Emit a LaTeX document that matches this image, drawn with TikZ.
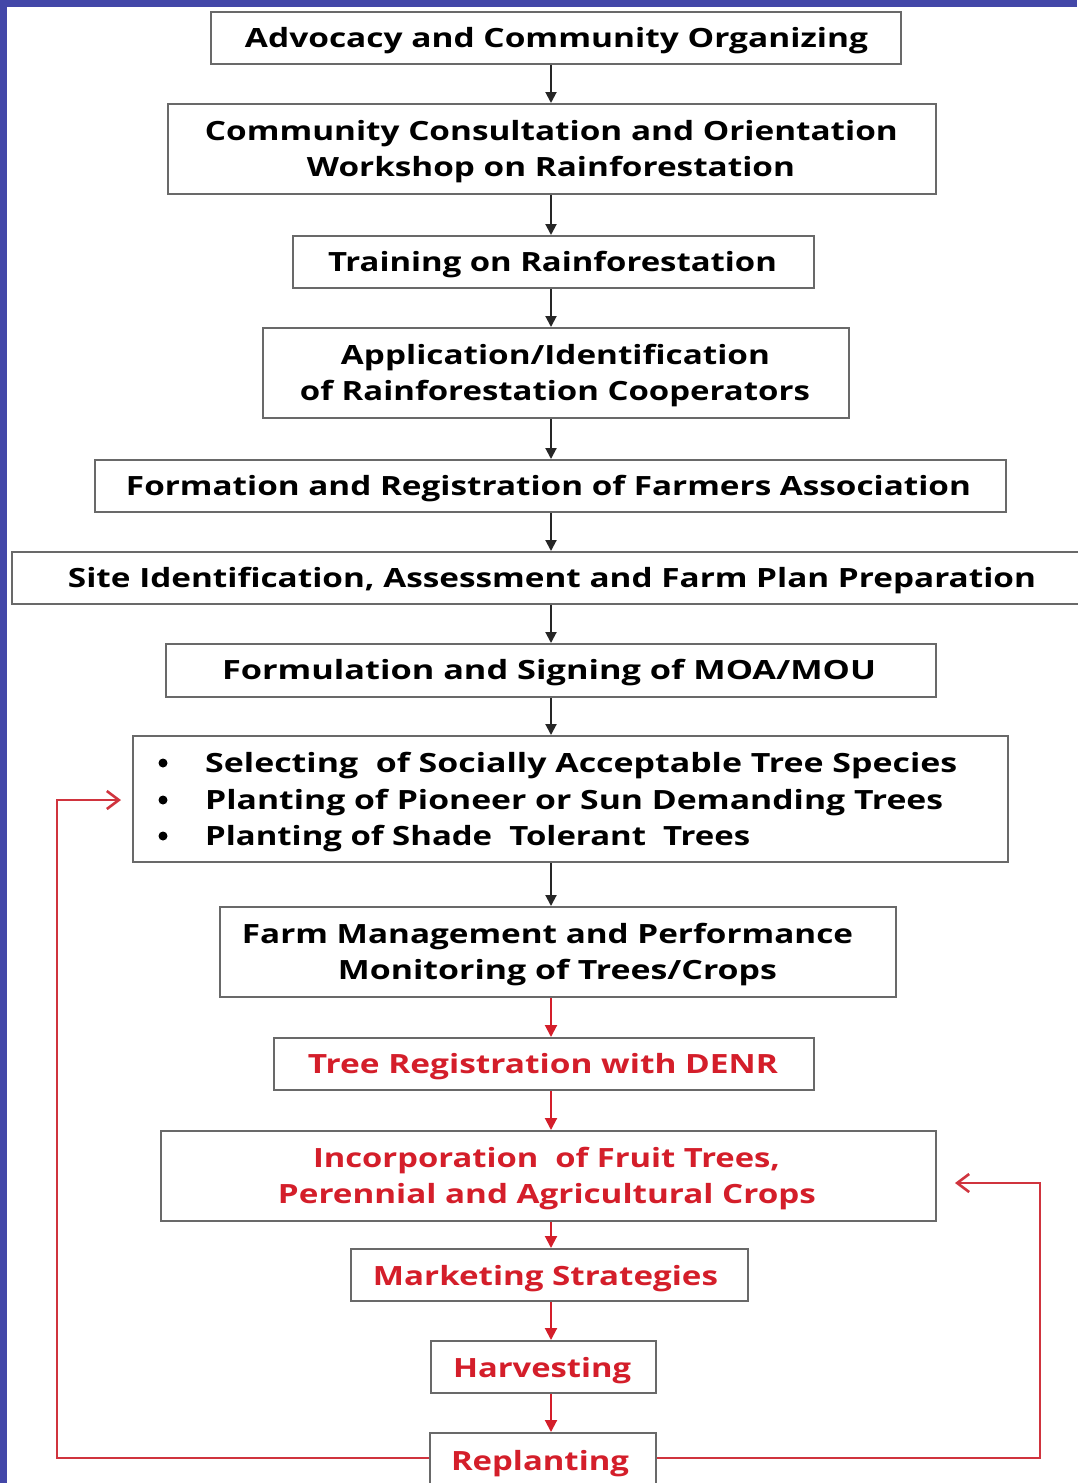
\documentclass[tikz,border=0pt]{standalone}
\usepackage{fontspec}
\setmainfont{Open Sans}
\usetikzlibrary{arrows.meta}
\definecolor{frame}{RGB}{67,71,168}
\definecolor{boxgray}{RGB}{105,105,105}
\definecolor{txtred}{RGB}{212,30,42}
\definecolor{linered}{RGB}{208,52,62}
\newcommand{\fitw}[2]{\resizebox{#1pt}{\height}{#2}}
\tikzset{
  box/.style={draw=boxgray, line width=2pt, rectangle, inner sep=0pt},
  txt/.style={inner sep=0pt, anchor=base, font=\fontsize{26.5}{32}\selectfont\bfseries, text=black},
  rtxt/.style={txt, text=txtred},
  ltxt/.style={txt, anchor=base west},
  bul/.style={circle, fill=black, inner sep=0pt, minimum size=9pt},
  karr/.style={draw=black!85, line width=2pt, -{Triangle[width=11pt,length=11pt]}},
  rarr/.style={draw=linered, line width=2pt, -{Triangle[width=12pt,length=12pt]}, color=txtred},
  rloop/.style={draw=linered, line width=2.6pt, -{Straight Barb[width=18pt,length=12pt,line width=2.6pt]}}
}
\begin{document}
\begin{tikzpicture}[x=1pt,y=-1pt]
\useasboundingbox (0,0) rectangle (1077,1483);
\fill[white] (0,0) rectangle (1077,1483);
% frame bands
\fill[frame] (0,0) rectangle (1077,6.5);
\fill[frame] (0,0) rectangle (7.3,1483);

\coordinate (axis) at (551,0);

% boxes
\node[box, minimum width=690pt, minimum height=52pt] (b1) at (556,38) {};
\node[box, minimum width=768pt, minimum height=90pt] (b2) at (552,149) {};
\node[box, minimum width=521pt, minimum height=52pt] (b3) at (553.5,262) {};
\node[box, minimum width=586pt, minimum height=90pt] (b4) at (556,373) {};
\node[box, minimum width=911pt, minimum height=52pt] (b5) at (550.5,486) {};
\node[box, minimum width=1078pt, minimum height=52pt] (b6) at (551,578) {};
\node[box, minimum width=770pt, minimum height=53pt] (b7) at (551,670.5) {};
\node[box, minimum width=875pt, minimum height=126pt] (b8) at (570.5,799) {};
\node[box, minimum width=676pt, minimum height=90pt] (b9) at (558,952) {};
\node[box, minimum width=540pt, minimum height=52pt] (b10) at (544,1064) {};
\node[box, minimum width=775pt, minimum height=90pt] (b11) at (548.5,1176) {};
\node[box, minimum width=397pt, minimum height=52pt] (b12) at (549.5,1275) {};
\node[box, minimum width=225pt, minimum height=52pt] (b13) at (543.5,1367) {};
\node[box, minimum width=226pt, minimum height=62pt] (b14) at (543,1464) {};

% texts
\node[txt] (t1) at (556.5,47.5) {\fitw{623}{Advocacy and Community Organizing}};
\node[txt] (t2a) at (551.5,140.5) {\fitw{693}{Community Consultation and Orientation}};
\node[txt] (t2b) at (551,176.5) {\fitw{488}{Workshop on Rainforestation}};
\node[txt] (t3) at (552.5,271.5) {\fitw{449}{Training on Rainforestation}};
\node[txt] (t4a) at (555.5,364.5) {\fitw{429}{Application/Identification}};
\node[txt] (t4b) at (555,400.5) {\fitw{510}{of Rainforestation Cooperators}};
\node[txt] (t5) at (548.5,495.5) {\fitw{845}{Formation and Registration of Farmers Association}};
\node[txt] (t6) at (552,587.5) {\fitw{968}{Site Identification, Assessment and Farm Plan Preparation}};
\node[txt] (t7) at (549,679.5) {\fitw{654}{Formulation and Signing of MOA/MOU}};
\node[bul] (u1) at (163,763) {};
\node[bul] (u2) at (163,800) {};
\node[bul] (u3) at (163,836) {};
\node[ltxt] (t8a) at (205,772.5) {\fitw{752}{Selecting\ \ of Socially Acceptable Tree Species}};
\node[ltxt] (t8b) at (205,809.5) {\fitw{738}{Planting of Pioneer or Sun Demanding Trees}};
\node[ltxt] (t8c) at (205,845.5) {\fitw{545}{Planting of Shade\ \ Tolerant\ \ Trees}};
\node[txt] (t9a) at (547.5,943.5) {\fitw{611}{Farm Management and Performance}};
\node[txt] (t9b) at (557.5,979.5) {\fitw{439}{Monitoring of Trees/Crops}};
\node[rtxt] (t10) at (543,1073.5) {\fitw{470}{Tree Registration with DENR}};
\node[rtxt] (t11a) at (546.5,1167.5) {\fitw{467}{Incorporation\ \ of Fruit Trees,}};
\node[rtxt] (t11b) at (547,1203.5) {\fitw{538}{Perennial and Agricultural Crops}};
\node[rtxt] (t12) at (545.5,1285.5) {\fitw{345}{Marketing Strategies}};
\node[rtxt] (t13) at (542,1377.5) {\fitw{178}{Harvesting}};
\node[rtxt] (t14) at (540,1470.5) {\fitw{178}{Replanting}};

% black arrows
\draw[karr] (b1.south -| axis) -- (b2.north -| axis);
\draw[karr] (b2.south -| axis) -- (b3.north -| axis);
\draw[karr] (b3.south -| axis) -- (b4.north -| axis);
\draw[karr] (b4.south -| axis) -- (b5.north -| axis);
\draw[karr] (b5.south -| axis) -- (b6.north -| axis);
\draw[karr] (b6.south -| axis) -- (b7.north -| axis);
\draw[karr] (b7.south -| axis) -- (b8.north -| axis);
\draw[karr] (b8.south -| axis) -- (b9.north -| axis);
% red arrows
\draw[rarr] (b9.south -| axis) -- (b10.north -| axis);
\draw[rarr] (b10.south -| axis) -- (b11.north -| axis);
\draw[rarr] (b11.south -| axis) -- (b12.north -| axis);
\draw[rarr] (b12.south -| axis) -- (b13.north -| axis);
\draw[rarr] (b13.south -| axis) -- (b14.north -| axis);

% feedback loops
\coordinate (lc) at (57,800);
\coordinate (tl) at (121,800);
\coordinate (rc) at (1040,1183);
\coordinate (tr) at (955,1183);
\draw[rloop] ([yshift=6pt]b14.west) -| (lc) -- (tl);
\draw[rloop] ([yshift=6pt]b14.east) -| (rc) -- (tr);
\end{tikzpicture}
\end{document}
